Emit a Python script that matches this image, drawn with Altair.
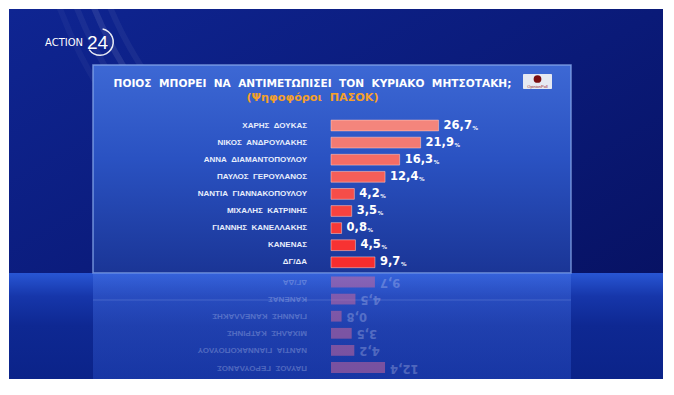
import altair as alt
import pandas as pd

# ---- data ----
names = ["ΧΑΡΗΣ ΔΟΥΚΑΣ", "ΝΙΚΟΣ ΑΝΔΡΟΥΛΑΚΗΣ", "ΑΝΝΑ ΔΙΑΜΑΝΤΟΠΟΥΛΟΥ",
         "ΠΑΥΛΟΣ ΓΕΡΟΥΛΑΝΟΣ", "ΝΑΝΤΙΑ ΓΙΑΝΝΑΚΟΠΟΥΛΟΥ", "ΜΙΧΑΛΗΣ ΚΑΤΡΙΝΗΣ",
         "ΓΙΑΝΝΗΣ ΚΑΝΕΛΛΑΚΗΣ", "ΚΑΝΕΝΑΣ", "ΔΓ/ΔΑ"]
values = [26.7, 21.9, 16.3, 12.4, 4.2, 3.5, 0.8, 4.5, 9.7]
title_text = "ΠΟΙΟΣ ΜΠΟΡΕΙ ΝΑ ΑΝΤΙΜΕΤΩΠΙΣΕΙ ΤΟΝ ΚΥΡΙΑΚΟ ΜΗΤΣΟΤΑΚΗ;"
subtitle_text = "(Ψηφοφόροι ΠΑΣΟΚ)"
bar_colors = ["#f4857c", "#f47a72", "#f56c65", "#f55e58", "#f64d49",
              "#f6423f", "#f73837", "#f73232", "#f72d2d"]

NB = "\u00a0"
def wide(s):
    return s.replace(" ", NB + NB)

df = pd.DataFrame({
    "name": names,
    "shown": [wide(n) for n in names],
    "value": values,
    "label": [f"{v:.1f}".replace(".", ",") for v in values],
})
one = pd.DataFrame({"k": [0]})

W, H = 654, 370
LABEL_FONT = "Liberation Sans"
NUM_FONT = "DejaVu Sans"

xs = alt.Scale(domain=[0, 30], range=[329.6, 441.95])
ys = alt.Scale(domain=names, range=[107.95, 261.85], paddingInner=0.37, paddingOuter=0.185)
ys_ref = alt.Scale(domain=names[::-1], range=[264.45, 418.35], paddingInner=0.37, paddingOuter=0.185)
ref_names = names[3:]

def grad(stops, x2=0, y2=1):
    return alt.Gradient(gradient="linear",
                        stops=[alt.GradientStop(offset=o, color=c) for o, c in stops],
                        x1=0, y1=0, x2=x2, y2=y2)

# ---- background ----
bg = alt.Chart(one).mark_rect(
    fill=grad([(0, "#0f2592"), (0.5, "#0a1a78"), (1, "#060f5c")], x2=1, y2=1)
).encode(x=alt.value(0), x2=alt.value(W), y=alt.value(0), y2=alt.value(H))

swooshes = []
for r, op in [(405, 0.05), (420, 0.09), (436, 0.05), (452, 0.04)]:
    swooshes.append(alt.Chart(one).mark_arc(
        radius=r, radius2=r - 6, theta=3.45, theta2=4.5, color="white", opacity=op, clip=True
    ).encode(x=alt.value(471), y=alt.value(-159)))

panel = alt.Chart(one).mark_rect(
    fill=grad([(0, "#3d68d4"), (0.45, "#2a52c2"), (1, "#1a3596")]),
    stroke="#86a6ea", strokeWidth=1.5, strokeOpacity=0.8
).encode(x=alt.value(84), x2=alt.value(562), y=alt.value(56), y2=alt.value(264))

floor = alt.Chart(one).mark_rect(
    fill=grad([(0, "#2856d4"), (0.22, "#1636aa"), (0.5, "#0e2892"), (1, "#0b2389")])
).encode(x=alt.value(0), x2=alt.value(W), y=alt.value(264), y2=alt.value(H))

panel_ref = alt.Chart(one).mark_rect(
    fill=grad([(0, "#4a76e6"), (1, "#2a52cc")]), opacity=0.4
).encode(x=alt.value(84), x2=alt.value(562), y=alt.value(264), y2=alt.value(H))

floor_line = alt.Chart(one).mark_rule(color="#9fb8f0", opacity=0.25, strokeWidth=1).encode(
    x=alt.value(84), x2=alt.value(562), y=alt.value(291))

# ---- logo ACTION 24 ----
action = alt.Chart(one).mark_text(
    text="ACTION", font="DejaVu Sans", fontSize=10, color="white", align="left", baseline="middle"
).encode(x=alt.value(36), y=alt.value(34))
num24 = alt.Chart(one).mark_text(
    text="24", font="Liberation Sans", fontSize=19, color="white", align="left", baseline="middle"
).encode(x=alt.value(78), y=alt.value(34))
ring = alt.Chart(one).mark_arc(
    radius=14, radius2=12.5, theta=0.2, theta2=4.1, color="white", opacity=0.9
).encode(x=alt.value(91), y=alt.value(33))

# ---- OpinionPoll logo ----
op_box = alt.Chart(one).mark_rect(fill="#e6e9f2", cornerRadius=1).encode(
    x=alt.value(514), x2=alt.value(543), y=alt.value(65), y2=alt.value(80))
op_dot = alt.Chart(one).mark_point(filled=True, shape="circle", size=60, color="#7a0d10", opacity=1).encode(
    x=alt.value(528.5), y=alt.value(70))
op_txt = alt.Chart(one).mark_text(text="OpinionPoll", fontSize=4, color="#9a2a2a").encode(
    x=alt.value(528.5), y=alt.value(77.5))

# ---- titles ----
title = alt.Chart(one).mark_text(
    text=wide(title_text), font="DejaVu Sans", fontWeight="bold", fontSize=10.6, color="white",
    align="center", baseline="middle"
).encode(x=alt.value(303.5), y=alt.value(75))
subtitle = alt.Chart(one).mark_text(
    text=wide(subtitle_text), font="DejaVu Sans", fontWeight="bold", fontSize=11.2, color="#f5a02a",
    align="center", baseline="middle"
).encode(x=alt.value(303.5), y=alt.value(89))

# ---- bars ----
base = alt.Chart(df)
bars = base.mark_bar(stroke="#ffc8c0", strokeWidth=1, strokeOpacity=0.55).encode(
    y=alt.Y("name:N", scale=ys, axis=None),
    x=alt.X("value:Q", scale=xs, axis=None, stack=None),
    x2=alt.value(322),
    color=alt.Color("name:N", scale=alt.Scale(domain=names, range=bar_colors), legend=None),
)
labels = base.mark_text(
    font=LABEL_FONT, fontWeight="bold", fontSize=8, color="#e8eefc", align="right", baseline="middle"
).encode(y=alt.Y("name:N", scale=ys, axis=None), x=alt.value(298), text="shown:N")
nums = base.mark_text(
    font=NUM_FONT, fontWeight="bold", fontSize=11.5, color="white", align="left", baseline="middle", dx=5
).encode(y=alt.Y("name:N", scale=ys, axis=None), x=alt.X("value:Q", scale=xs, axis=None), text="label:N")
pct_big = base.transform_filter("datum.value >= 10").mark_text(
    text="%", font=NUM_FONT, fontWeight="bold", fontSize=5.5, color="white", align="left",
    baseline="middle", dx=34, dy=2
).encode(y=alt.Y("name:N", scale=ys, axis=None), x=alt.X("value:Q", scale=xs, axis=None))
pct_small = base.transform_filter("datum.value < 10").mark_text(
    text="%", font=NUM_FONT, fontWeight="bold", fontSize=5.5, color="white", align="left",
    baseline="middle", dx=26, dy=2
).encode(y=alt.Y("name:N", scale=ys, axis=None), x=alt.X("value:Q", scale=xs, axis=None))

# ---- reflection ----
ref_base = base.transform_filter(alt.FieldOneOfPredicate(field="name", oneOf=ref_names))
ref_bars = ref_base.mark_bar(color="#d86a9a", opacity=0.5, clip=True).encode(
    y=alt.Y("name:N", scale=ys_ref, axis=None),
    x=alt.X("value:Q", scale=xs, axis=None, stack=None),
    x2=alt.value(322),
)
ref_labels = ref_base.mark_text(
    font=LABEL_FONT, fontWeight="bold", fontSize=8, color="#c8d4f4", opacity=0.3,
    align="left", baseline="middle", angle=180, clip=True
).encode(y=alt.Y("name:N", scale=ys_ref, axis=None), x=alt.value(298), text="shown:N")
ref_nums = ref_base.mark_text(
    font=NUM_FONT, fontWeight="bold", fontSize=11.5, color="#d8def8", opacity=0.28,
    align="right", baseline="middle", angle=180, dx=-5, clip=True
).encode(y=alt.Y("name:N", scale=ys_ref, axis=None), x=alt.X("value:Q", scale=xs, axis=None), text="label:N")

chart = alt.layer(
    bg, *swooshes, floor, panel, panel_ref, floor_line,
    ref_bars, ref_labels, ref_nums,
    action, num24, ring, op_box, op_dot, op_txt,
    title, subtitle,
    bars, labels, nums, pct_big, pct_small,
).resolve_scale(y="independent", x="independent", color="independent").properties(
    width=W, height=H,
    padding={"left": 1, "top": 1, "right": 0, "bottom": 0},
    autosize=alt.AutoSizeParams(type="none"),
    background="white",
).configure_view(stroke=None)

chart.save("out.html", embed_options={"renderer": "svg", "actions": False})
